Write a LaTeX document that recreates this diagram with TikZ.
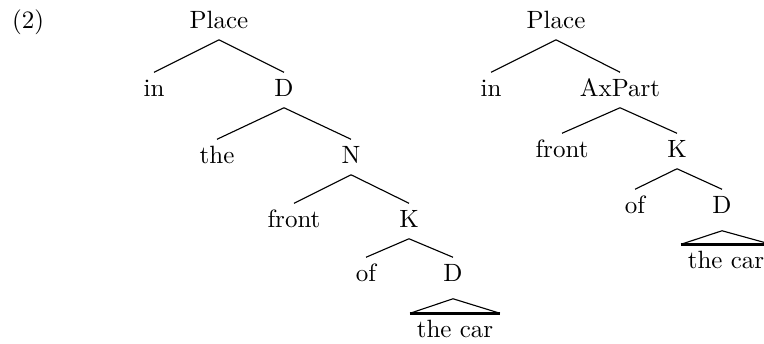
\documentclass[tikz,border=0pt]{standalone}
\usepackage{tikz}
\usetikzlibrary{calc}

\begin{document}
\begin{tikzpicture}[
    x=0.4pt, y=-0.4pt,
    cat/.style={anchor=base, inner sep=2.5pt, text height=6.8pt, text depth=2pt},
    branch/.style={line width=0.45pt},
    roofbase/.style={line width=1.2pt},
]
    \useasboundingbox (0,0) rectangle (764,343);
    \node[cat] (ex) at (28, 28) {(2)};

    % in front of the car: Place > D > N > K > D
    \node[cat] (place1) at (219, 28)  {Place};
    \node[cat] (in1)    at (154, 96)  {in};
    \node[cat] (d1)     at (284, 96)  {D};
    \node[cat] (the1)   at (217, 163) {the};
    \node[cat] (n1)     at (351, 163) {N};
    \node[cat] (front1) at (294, 227) {front};
    \node[cat] (k1)     at (409, 227) {K};
    \node[cat] (of1)    at (366, 281) {of};
    \node[cat] (d2)     at (453, 281) {D};
    \node[cat] (car1)   at (455, 337) {the car};

    \draw[branch] (place1.south) -- (in1.north);
    \draw[branch] (place1.south) -- (d1.north);
    \draw[branch] (d1.south) -- (the1.north);
    \draw[branch] (d1.south) -- (n1.north);
    \draw[branch] (n1.south) -- (front1.north);
    \draw[branch] (n1.south) -- (k1.north);
    \draw[branch] (k1.south) -- (of1.north);
    \draw[branch] (k1.south) -- (d2.north);
    \draw[branch] (car1.north west) -- ($(d2.south)+(0,6)$) -- (car1.north east);
    \draw[roofbase] (car1.north west) -- (car1.north east);

    % in front of the car: Place > AxPart > K > D
    \node[cat] (place2) at (556, 28)  {Place};
    \node[cat] (in2)    at (491, 96)  {in};
    \node[cat] (ax2)    at (620, 96)  {AxPart};
    \node[cat] (front2) at (562, 157) {front};
    \node[cat] (k2)     at (677, 157) {K};
    \node[cat] (of2)    at (635, 213) {of};
    \node[cat] (d3)     at (722, 213) {D};
    \node[cat] (car2)   at (726, 268) {the car};

    \draw[branch] (place2.south) -- (in2.north);
    \draw[branch] (place2.south) -- (ax2.north);
    \draw[branch] (ax2.south) -- (front2.north);
    \draw[branch] (ax2.south) -- (k2.north);
    \draw[branch] (k2.south) -- (of2.north);
    \draw[branch] (k2.south) -- (d3.north);
    \draw[branch] (car2.north west) -- ($(d3.south)+(0,6)$) -- (car2.north east);
    \draw[roofbase] (car2.north west) -- (car2.north east);
\end{tikzpicture}
\end{document}
